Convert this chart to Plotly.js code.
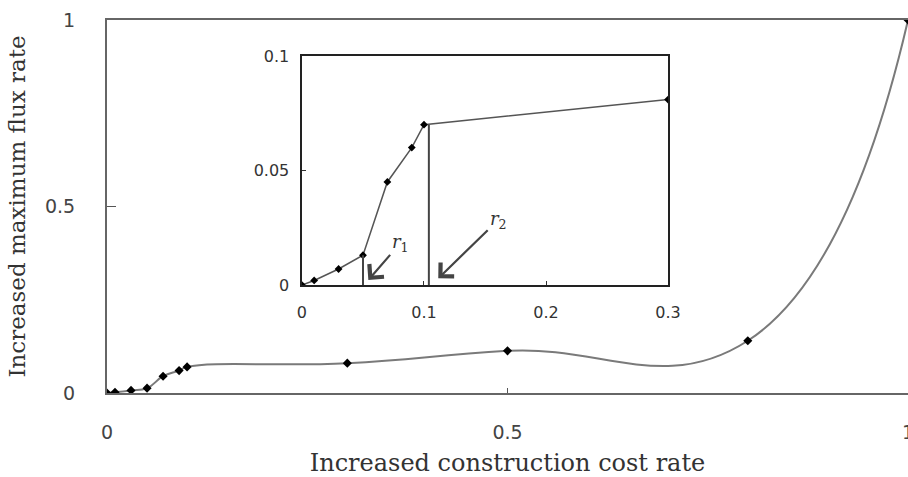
<!DOCTYPE html>
<html>
<head>
<meta charset="utf-8">
<script src="https://cdn.plot.ly/plotly-3.0.1.min.js"></script>
<style>
html,body{margin:0;padding:0;background:#fff;}
#chart{width:908px;height:477px;}
</style>
</head>
<body>
<div id="chart"></div>
<script>
// Main curve (Increased construction cost rate vs increased maximum flux rate)
const mainX = [0, 0.01, 0.03, 0.05, 0.07, 0.09, 0.1, 0.3, 0.5, 0.8, 1.0];
const mainY = [0, 0.002, 0.007, 0.013, 0.045, 0.06, 0.07, 0.08, 0.113, 0.14, 1.0];

// Inset (zoom on 0 - 0.3)
const insetX = [0, 0.01, 0.03, 0.05, 0.07, 0.09, 0.1, 0.3];
const insetY = [0, 0.002, 0.007, 0.013, 0.045, 0.06, 0.07, 0.081];

// Tick values / labels
const mainTickValsX = [0, 0.5, 1];
const mainTickTextX = ['0', '0.5', '1'];
const mainTickValsY = [0, 0.5, 1];
const mainTickTextY = ['0', '0.5', '1'];
const insetTickValsX = [0, 0.1, 0.2, 0.3];
const insetTickTextX = ['0', '0.1', '0.2', '0.3'];
const insetTickValsY = [0, 0.05, 0.1];
const insetTickTextY = ['0', '0.05', '0.1'];

// Threshold markers r1, r2 (x position, height of the drop line)
const thresholdSubs = ['1', '2'];
const thresholdX = [0.05, 0.104];
const thresholdTop = [0.013, 0.07];
// arrows: label (tail) -> tip
const arrowTipX = [0.0544, 0.1117];
const arrowTipY = [0.0022, 0.0029];
const labelX = [0.081, 0.161];
const labelY = [0.0185, 0.0285];

const traces = [
  {
    x: mainX, y: mainY, type: 'scatter', mode: 'lines+markers',
    xaxis: 'x', yaxis: 'y',
    line: {color: '#7a7a7a', width: 2, shape: 'spline', smoothing: 1.3},
    marker: {symbol: 'diamond', size: 7, color: '#000'},
    hoverinfo: 'x+y', cliponaxis: true
  },
  {
    x: insetX, y: insetY, type: 'scatter', mode: 'lines+markers',
    xaxis: 'x2', yaxis: 'y2',
    line: {color: '#555', width: 1.5},
    marker: {symbol: 'diamond', size: 6, color: '#000'},
    hoverinfo: 'x+y'
  }
];

const shapes = thresholdX.map((xv, i) => ({
  type: 'line', xref: 'x2', yref: 'y2',
  x0: xv, x1: xv, y0: 0, y1: thresholdTop[i],
  line: {color: '#444', width: 2}
}));

const annotations = thresholdX.map((xv, i) => ({
  xref: 'x2', yref: 'y2', axref: 'x2', ayref: 'y2',
  x: arrowTipX[i], y: arrowTipY[i], ax: labelX[i], ay: labelY[i],
  text: '<i>r</i><sub>' + thresholdSubs[i] + '</sub>',
  showarrow: true, arrowhead: 4, arrowsize: 1.7, arrowwidth: 2.2,
  arrowcolor: '#444', startstandoff: 1,
  font: {family: 'DejaVu Serif', size: 18, color: '#333'}
}));

const layout = {
  width: 908, height: 477,
  margin: {l: 107, r: 0, t: 20, b: 84},
  paper_bgcolor: '#fff', plot_bgcolor: 'rgba(0,0,0,0)',
  showlegend: false,
  xaxis: {
    domain: [0, 1], range: [0, 1],
    tickvals: mainTickValsX, ticktext: mainTickTextX,
    ticks: 'inside', ticklen: 5, tickwidth: 1.5, tickcolor: '#555',
    showline: true, linecolor: '#666', linewidth: 2, mirror: true,
    showgrid: false, zeroline: false,
    ticklabelstandoff: 21, ticklabeloverflow: 'allow',
    tickfont: {family: 'DejaVu Sans', size: 19, color: '#444'},
    title: {text: 'Increased construction cost rate', standoff: 14,
      font: {family: 'DejaVu Serif', size: 24, color: '#333'}}
  },
  yaxis: {
    domain: [0, 1], range: [0, 1],
    tickvals: mainTickValsY, ticktext: mainTickTextY,
    ticks: 'inside', ticklen: 9, tickwidth: 1.5, tickcolor: '#555',
    showline: true, linecolor: '#666', linewidth: 2, mirror: false,
    showgrid: false, zeroline: false,
    ticklabelstandoff: 26,
    tickfont: {family: 'DejaVu Sans', size: 19, color: '#444'},
    title: {text: 'Increased maximum flux rate', standoff: 13,
      font: {family: 'DejaVu Serif', size: 23, color: '#333'}}
  },
  xaxis2: {
    domain: [0.2434, 0.7004], range: [0, 0.3], anchor: 'y2',
    tickvals: insetTickValsX, ticktext: insetTickTextX,
    ticks: 'inside', ticklen: 4, tickwidth: 1, tickcolor: '#333',
    showline: true, linecolor: '#222', linewidth: 1.5, mirror: true,
    showgrid: false, zeroline: false,
    ticklabelstandoff: 12,
    tickfont: {family: 'DejaVu Sans', size: 16, color: '#333'}
  },
  yaxis2: {
    domain: [0.2895, 0.9035], range: [0, 0.1], anchor: 'x2',
    tickvals: insetTickValsY, ticktext: insetTickTextY,
    ticks: 'inside', ticklen: 4, tickwidth: 1, tickcolor: '#333',
    showline: true, linecolor: '#222', linewidth: 1.5, mirror: true,
    showgrid: false, zeroline: false,
    ticklabelstandoff: 8,
    tickfont: {family: 'DejaVu Sans', size: 16, color: '#333'}
  },
  shapes: shapes,
  annotations: annotations
};

Plotly.newPlot('chart', traces, layout, {displayModeBar: false, staticPlot: true});
</script>
</body>
</html>
